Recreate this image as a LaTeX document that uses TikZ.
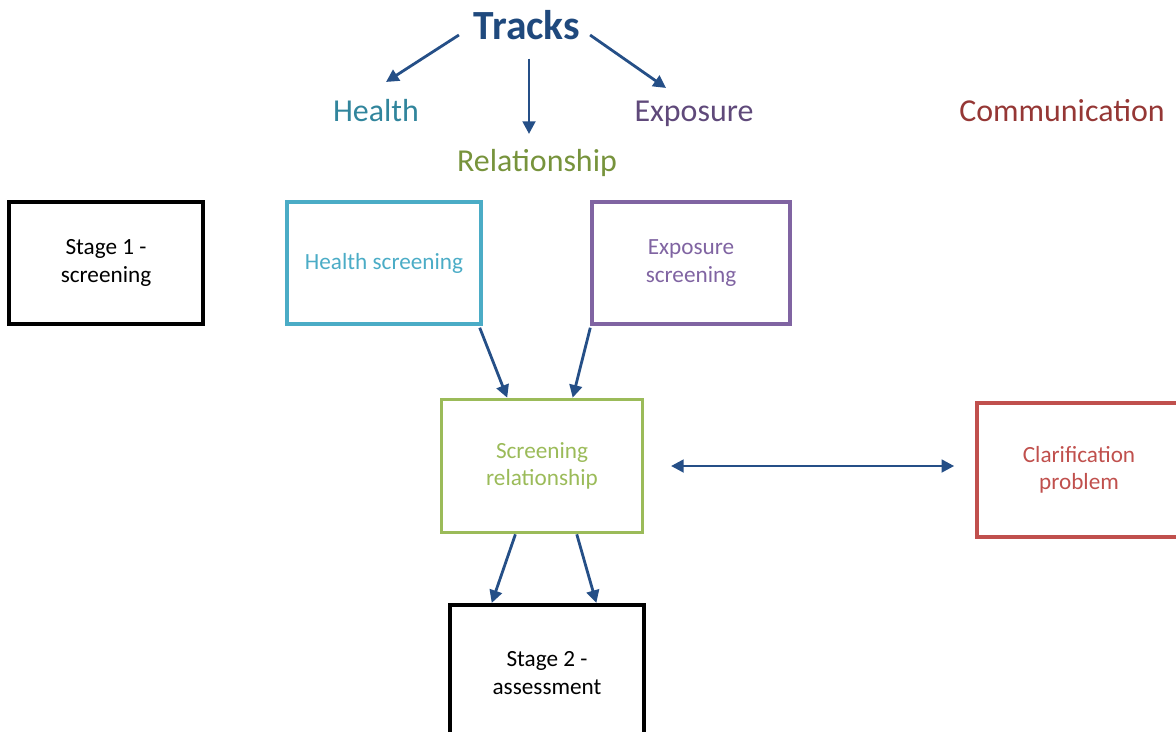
\documentclass[tikz,border=0pt]{standalone}
\usepackage{fontspec}
\setmainfont{Carlito}
\usepackage{xcolor}
\usepackage{tikz}
\usetikzlibrary{arrows.meta,calc}

\definecolor{trackblue}{RGB}{31,73,125}
\definecolor{arrowblue}{RGB}{37,79,135}
\definecolor{healthcyan}{RGB}{75,172,198}
\definecolor{healthteal}{RGB}{49,133,156}
\definecolor{exposurepurple}{RGB}{128,100,162}
\definecolor{exposuredark}{RGB}{95,73,122}
\definecolor{relgreen}{RGB}{155,187,89}
\definecolor{reldark}{RGB}{119,147,60}
\definecolor{commred}{RGB}{192,80,77}
\definecolor{commdark}{RGB}{149,55,53}

\begin{document}
\begin{tikzpicture}[
    x=0.025cm, y=-0.025cm,
    stagebox/.style={
        rectangle,
        draw=black,
        line width=2.9pt,
        align=center,
        minimum width=4.83cm,
        minimum height=3.05cm,
        font=\fontsize{16.5}{19.5}\selectfont
    },
    trackbox/.style={
        rectangle,
        draw=#1,
        text=#1,
        line width=2.4pt,
        align=center,
        minimum width=4.85cm,
        minimum height=3.05cm,
        font=\fontsize{16.5}{19.5}\selectfont
    },
    tracklabel/.style={
        text=#1,
        text height=16pt,
        text depth=4pt,
        font=\fontsize{22.7}{26}\selectfont
    },
    arrow/.style={
        -{Triangle[length=9pt,width=9pt]},
        line width=2pt,
        draw=arrowblue
    },
    twoarrow/.style={
        {Triangle[length=9pt,width=9pt]}-{Triangle[length=9pt,width=9pt]},
        line width=2pt,
        draw=arrowblue
    }
]

\useasboundingbox (0,0) rectangle (1176,731);

% Track headings
\node[text=trackblue, font=\fontsize{29.5}{32}\selectfont\bfseries] (tracks) at (527,25) {Tracks};
\node[tracklabel=healthteal] (health) at (376,113) {Health};
\node[tracklabel=exposuredark] (exposure) at (694,113) {Exposure};
\node[tracklabel=reldark] (relationship) at (537,163) {Relationship};
\node[tracklabel=commdark] (communication) at (1062,113) {Communication};

% Stage boxes
\node[stagebox] (stageone) at (106,263) {Stage 1 -\\screening};
\node[stagebox, minimum height=3.4cm] (stagetwo) at (547,673) {Stage 2 -\\assessment};

% Screening boxes
\node[trackbox=healthcyan] (healthscr) at (384,263) {Health screening};
\node[trackbox=exposurepurple, minimum width=4.95cm] (exposurescr) at (691,263) {Exposure\\screening};
\node[trackbox=relgreen, minimum width=5.03cm, minimum height=3.33cm] (screenrel) at (542,466) {Screening\\relationship};
\node[trackbox=commred, minimum width=5.1cm, minimum height=3.35cm] (clarif) at (1079,470) {Clarification\\problem};

% Arrows from the heading
\draw[arrow] ($(tracks.west)+(-10,10)$) -- ($(health.north)+(10,-12)$);
\draw[arrow] ($(tracks.south)+(2,14)$) -- ($(relationship.north)+(-8,-10)$);
\draw[arrow] ($(tracks.east)+(5,10)$) -- ($(exposure.north)+(-28,-6)$);

% Arrows between boxes
\draw[arrow] ($(healthscr.south east)+(-3,2)$) -- ($(screenrel.north west)!0.33!(screenrel.north east)$);
\draw[arrow] ($(exposurescr.south west)+(0,2)$) -- ($(screenrel.north west)!0.65!(screenrel.north east)$);
\draw[twoarrow, shorten <=19pt, shorten >=15pt] (screenrel.east) -- (clarif.west |- screenrel.east);
\draw[arrow] ($(screenrel.south west)!0.37!(screenrel.south east)$) -- ($(stagetwo.north west)!0.22!(stagetwo.north east)$);
\draw[arrow] ($(screenrel.south west)!0.67!(screenrel.south east)$) -- ($(stagetwo.north west)!0.75!(stagetwo.north east)$);

\end{tikzpicture}
\end{document}
